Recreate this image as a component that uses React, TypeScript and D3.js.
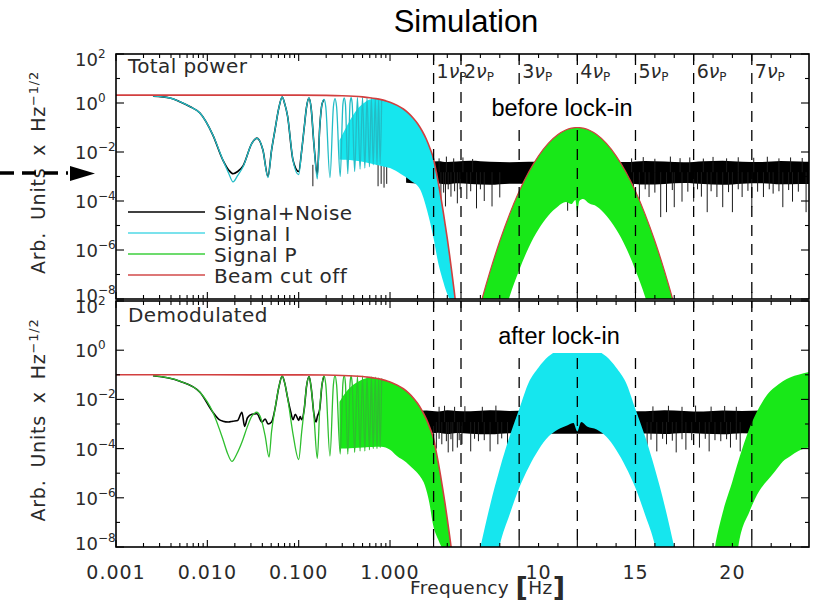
import React from "react";
import * as d3 from "d3";

type Pt = [number, number];
type Band = [number, number, number];

// ---- Harmonics of the modulation frequency (dashed markers) ----
const harmonicOrders = [1, 2, 3, 4, 5, 6, 7];
const harmonicFreqs = [3, 6, 9, 12, 15, 18, 21];

// ---- Axis ticks and labels ----
const logLabelFreqs = [0.001, 0.01, 0.1, 1];
const logLabelTexts = ["0.001", "0.010", "0.100", "1.000"];
const linLabelFreqs = [10, 15, 20];
const linLabelTexts = ["10", "15", "20"];
const linMajorTicks = [3, 6, 9, 12, 15, 18, 21];
const linMinorTicks = [4.5, 7, 8, 10, 11, 13, 14, 16, 17, 19, 20, 22, 23];
const decadeExponents = [2, 1, 0, -1, -2, -3, -4, -5, -6, -7, -8];
const labelledExponents = [2, 0, -2, -4, -6, -8];

// ---- Legend ----
const legendNames = ["Signal+Noise", "Signal I", "Signal P", "Beam cut off"];
const legendColors = ["#000000", "#4fd8e6", "#3ccf3c", "#d24a4a"];

// ---- Beam cut-off envelope ----
const beamF = [0.001, 0.1, 0.2, 0.3, 0.4, 0.5, 0.6, 0.7, 0.8, 0.9, 1.0, 1.2, 1.4, 1.6, 1.8, 2.0, 2.25, 2.5, 2.75, 3.0, 3.25, 3.5, 3.75, 4.0, 4.25, 4.5, 4.75, 5.0, 5.25, 5.5];
const beamTotal = [2.1, 2.09, 2.05, 1.98, 1.89, 1.78, 1.65, 1.51, 1.37, 1.22, 1.08, 0.8, 0.57, 0.38, 0.24, 0.146, 0.072, 0.033, 0.0136, 0.0052, 0.0018, 6e-4, 1.8e-4, 4.9e-5, 1.2e-5, 2.9e-6, 6.2e-7, 1.2e-7, 2.2e-8, 3.7e-9];
const beamDemod = [0.1, 0.0995, 0.0976, 0.0943, 0.09, 0.0848, 0.0787, 0.072, 0.0652, 0.058, 0.0514, 0.038, 0.0271, 0.0181, 0.0115, 0.00695, 0.00343, 0.00157, 6.5e-4, 2.5e-4, 8.7e-5, 2.85e-5, 8.5e-6, 2.33e-6, 5.9e-7, 1.37e-7, 2.9e-8, 5.8e-9, 1.05e-9, 1.8e-10];

// ======== Total power panel ========
// Signal+Noise, low-frequency trace
const sigNoiseTotF = [0.00254, 0.0039, 0.005, 0.0065, 0.0083, 0.0115, 0.0148, 0.0172, 0.0191, 0.0215, 0.0246, 0.0308, 0.0349, 0.0406, 0.0461, 0.0505, 0.055, 0.0605, 0.066, 0.0705, 0.0755, 0.0866, 0.1, 0.108, 0.115, 0.122, 0.13, 0.137, 0.147, 0.16, 0.17, 0.18, 0.19];
const sigNoiseTotV = [1.9, 1.6, 1.13, 0.7, 0.39, 0.049, 0.0047, 0.0018, 0.0013, 0.0016, 0.0027, 0.023, 0.037, 0.012, 0.001, 0.012, 0.079, 0.6, 1.76, 0.9, 0.3, 0.0047, 0.0016, 0.012, 0.1, 0.7, 1.6, 0.6, 0.02, 0.0012, 0.1, 0.9, 1.4];
// Noise floor above ~1.5 Hz
const noiseGridF = [1.5, 2.5, 3.5, 4.5, 5.5, 6.5, 7.5, 8.5, 9.5, 10.5, 11.5, 12.5, 13.5, 14.5, 15.5, 16.5, 17.5, 18.5, 19.5, 20.5, 21.5, 22.5, 23.5, 23.95];
const noiseTotUpper = [3.8e-3, 4e-3, 4.2e-3, 3.9e-3, 4.1e-3, 4.4e-3, 4.0e-3, 3.8e-3, 4e-3, 4e-3, 4e-3, 4e-3, 4e-3, 3.9e-3, 4.3e-3, 4.1e-3, 3.8e-3, 4.2e-3, 4.4e-3, 4.0e-3, 3.9e-3, 4.3e-3, 4.1e-3, 4.0e-3];
const noiseTotLower = [5.5e-4, 5e-4, 5.2e-4, 4.8e-4, 5.3e-4, 5e-4, 4.6e-4, 5.1e-4, 5e-4, 5e-4, 5e-4, 5e-4, 5e-4, 5.2e-4, 4.7e-4, 5.0e-4, 5.4e-4, 4.9e-4, 4.6e-4, 5.1e-4, 5.3e-4, 4.8e-4, 5.0e-4, 4.9e-4];
const noiseTotDips: Pt[] = [[2.6, 1.5e-4], [3.1, 8e-5], [3.8, 1e-4], [4.3, 6e-5], [4.9, 1.5e-4], [5.6, 8e-5], [6.3, 1.2e-4], [6.8, 5e-5], [7.2, 1e-4], [7.6, 6e-5], [8.0, 1.4e-4], [11.5, 4e-5], [15.2, 5.6e-5], [15.7, 1.45e-4], [16.3, 2.2e-5], [16.6, 3.5e-5], [17.0, 5.6e-5], [17.4, 9.4e-5], [18.0, 9.4e-5], [18.4, 1.5e-4], [18.7, 3.5e-5], [19.2, 1.45e-4], [19.5, 5.6e-5], [20.0, 3.5e-5], [20.5, 1.45e-4], [21.0, 5.6e-5], [21.6, 1.45e-4], [22.1, 2e-4], [22.6, 5.6e-5], [23.1, 9.4e-5], [23.8, 3.5e-5]];
const noiseTotShortDips: Pt[] = [[2.8, 2.5e-4], [3.4, 3e-4], [4.1, 2.2e-4], [4.6, 3e-4], [5.3, 2.5e-4], [5.9, 3e-4], [6.5, 2.5e-4], [7.0, 3e-4], [14.9, 2.5e-4], [15.5, 3e-4], [16.0, 2.2e-4], [16.9, 2.8e-4], [17.7, 2.4e-4], [18.2, 3e-4], [18.9, 2.5e-4], [19.8, 2.3e-4], [20.3, 3e-4], [20.8, 2.6e-4], [21.3, 2.4e-4], [21.9, 3e-4], [22.4, 2.5e-4], [22.9, 2.8e-4], [23.4, 2.4e-4]];
const noiseTotTips: Pt[] = [[2.9, 6e-3], [3.6, 5.5e-3], [4.4, 6.5e-3], [5.2, 5.5e-3], [6.1, 6e-3], [6.6, 5.2e-3], [14.8, 5.5e-3], [15.4, 6.2e-3], [16.0, 5.3e-3], [16.8, 6.5e-3], [17.3, 5.6e-3], [17.8, 6e-3], [18.5, 5.4e-3], [19.0, 6.3e-3], [19.7, 5.5e-3], [20.3, 6.1e-3], [21.1, 5.8e-3], [21.8, 6.4e-3], [22.4, 5.5e-3], [23.0, 6e-3], [23.6, 5.7e-3]];
const noiseTotLowDips: Pt[] = [[0.143, 4e-4], [0.74, 4e-4], [0.8, 5e-4], [0.86, 3.5e-4], [0.92, 5e-4]];

// Signal I (total power): resolved lobes, then the unresolved band
const sigITotF = [0.00254, 0.0039, 0.005, 0.0065, 0.0083, 0.0115, 0.0148, 0.0172, 0.0191, 0.0215, 0.0246, 0.0308, 0.0349, 0.0406, 0.0461, 0.0505, 0.055, 0.0605, 0.066, 0.0705, 0.0755, 0.0866, 0.1, 0.108, 0.115, 0.122, 0.13, 0.137, 0.147, 0.16, 0.17, 0.18, 0.19, 0.198, 0.22, 0.24, 0.25, 0.26, 0.285, 0.305, 0.315, 0.325, 0.345, 0.365, 0.375, 0.385, 0.41, 0.44, 0.47, 0.5, 0.53, 0.56, 0.595, 0.625, 0.655, 0.69, 0.72, 0.75, 0.78, 0.81];
const sigITotV = [1.9, 1.6, 1.13, 0.7, 0.39, 0.049, 0.0047, 0.0013, 0.0006, 0.0011, 0.0025, 0.023, 0.037, 0.012, 0.0009, 0.012, 0.079, 0.6, 1.76, 0.9, 0.3, 0.0047, 0.0012, 0.012, 0.1, 0.7, 1.6, 0.6, 0.02, 0.0008, 0.1, 0.9, 1.4, 0.7, 0.0009, 0.7, 1.5, 0.7, 0.001, 0.9, 1.6, 0.9, 0.0013, 1.0, 1.65, 1.0, 0.0016, 1.7, 0.002, 1.7, 0.0022, 1.65, 0.0025, 1.6, 0.003, 1.55, 0.003, 1.5, 0.0032, 1.4];
const sigITotBandF = [0.28, 0.33, 0.4, 0.5, 0.6, 0.7, 0.8, 1.0, 1.3, 1.66, 2.13, 2.55, 3.0, 3.5, 4.0, 4.4, 4.8, 5.2, 5.4];
const sigITotBandLo = [0.005, 0.0048, 0.0045, 0.004, 0.0035, 0.003, 0.0027, 0.0022, 0.0013, 7e-4, 3e-4, 4e-5, 3e-6, 3e-7, 6e-8, 2e-8, 9e-9, 4e-9, 7.6e-9];
const sigITotBandHi = [0.03, 0.1, 0.35, 0.9, 1.4, 1.5, 1.37, 1.08, 0.68, 0.33, 0.1, 0.027, 0.0052, 6e-4, 4.9e-5, 5.2e-6, 4.5e-7, 3.1e-8, 7.6e-9];

// Signal P (total power): modulated up to the 4th harmonic
const sigPTotF = [6.6, 7, 7.5, 8, 8.5, 9, 9.5, 10, 10.5, 11, 11.4, 11.7, 11.9, 12, 12.1, 12.3, 12.6, 13, 13.5, 14, 14.5, 15, 15.5, 16, 16.5, 17, 17.4];
const sigPTotLo = [1e-10, 1e-10, 1e-10, 5e-10, 1.2e-8, 1.5e-7, 1.3e-6, 7e-6, 2.5e-5, 6e-5, 9e-5, 7.5e-5, 1.1e-4, 3.5e-5, 1e-4, 1.2e-4, 8e-5, 6e-5, 2.5e-5, 7e-6, 1.3e-6, 1.5e-7, 1.2e-8, 5e-10, 1e-10, 1e-10, 1e-10];
const sigPTotHi = [3.6e-10, 5.8e-9, 1.37e-7, 2.33e-6, 2.84e-5, 2.48e-4, 1.55e-3, 6.95e-3, 0.0223, 0.0513, 0.0787, 0.0942, 0.0993, 0.1, 0.0993, 0.0942, 0.0787, 0.0513, 0.0223, 6.95e-3, 1.55e-3, 2.48e-4, 2.84e-5, 2.33e-6, 1.37e-7, 5.8e-9, 3.6e-10];

// ======== Demodulated panel ========
const sigNoiseDemF = [0.00254, 0.005, 0.0083, 0.0115, 0.0135, 0.0148, 0.017, 0.019, 0.0215, 0.0239, 0.0256, 0.0275, 0.0307, 0.0349, 0.0396, 0.043, 0.0462, 0.0505, 0.055, 0.0605, 0.066, 0.0705, 0.0755, 0.082, 0.0866, 0.092, 0.1, 0.104, 0.108, 0.115, 0.122, 0.13, 0.137, 0.147, 0.155, 0.16, 0.17, 0.18, 0.19];
const sigNoiseDemV = [0.092, 0.055, 0.0195, 0.003, 1.5e-3, 1.3e-3, 1.2e-3, 1.3e-3, 1.4e-3, 3e-3, 8e-4, 1.8e-3, 2.5e-3, 2.6e-3, 1.2e-3, 1.6e-3, 1e-3, 1.2e-3, 4e-3, 0.03, 0.088, 0.045, 0.012, 3e-3, 1.5e-3, 2.5e-3, 1.4e-3, 2e-3, 1.5e-3, 4e-3, 0.035, 0.085, 0.03, 2.5e-3, 1.2e-3, 2e-3, 4e-3, 0.04, 0.09];
const noiseDemUpper = [3.3e-3, 3.5e-3, 3.2e-3, 3.6e-3, 3.4e-3, 3.3e-3, 3.6e-3, 3.4e-3, 3.5e-3, 3.4e-3, 3.4e-3, 3.4e-3, 3.4e-3, 3.4e-3, 3.3e-3, 3.6e-3, 3.4e-3, 3.2e-3, 3.5e-3, 3.4e-3, 3.5e-3, 3.4e-3, 3.4e-3, 3.4e-3];
const noiseDemLower = [4.2e-4, 4e-4, 4.4e-4, 3.9e-4, 4.3e-4, 4e-4, 3.8e-4, 4.2e-4, 4.1e-4, 4e-4, 4e-4, 4e-4, 4e-4, 4e-4, 4.1e-4, 3.9e-4, 4.3e-4, 4e-4, 3.8e-4, 4.2e-4, 4e-4, 4e-4, 4e-4, 4e-4];
const noiseDemDips: Pt[] = [[3.3, 1e-4], [3.9, 1.5e-4], [4.6, 7e-5], [5.1, 7.7e-5], [5.6, 1.1e-4], [6.05, 1.5e-4], [6.5, 7.7e-5], [6.9, 2e-4], [7.5, 7.7e-5], [7.9, 1.5e-4], [8.4, 1.5e-4], [15.6, 1.1e-4], [16.1, 7.7e-5], [16.6, 1.5e-4], [17.1, 7e-5], [17.6, 9e-5], [18.3, 1.1e-4], [18.8, 7.7e-5], [19.4, 2e-4], [19.9, 1.1e-4], [20.4, 7.7e-5]];
const noiseDemShortDips: Pt[] = [[3.0, 2.2e-4], [3.6, 2.5e-4], [4.4, 2e-4], [4.9, 2.4e-4], [5.8, 2.2e-4], [6.7, 2.5e-4], [7.2, 2.2e-4], [8.1, 2.6e-4], [15.8, 2.3e-4], [16.4, 2.5e-4], [16.9, 2.1e-4], [17.4, 2.4e-4], [17.9, 2.2e-4], [18.6, 2.5e-4], [19.1, 2.2e-4], [19.7, 2.4e-4], [20.2, 2.3e-4]];
const noiseDemTips: Pt[] = [[3.6, 5e-3], [4.2, 5.5e-3], [5.3, 5e-3], [6.2, 5.3e-3], [7.1, 5e-3], [7.8, 5.6e-3], [15.9, 5.2e-3], [16.7, 5.5e-3], [17.4, 5e-3], [18.1, 5.6e-3], [18.9, 5.1e-3], [19.6, 5.4e-3], [20.2, 5e-3]];

// Signal P (demodulated): brought down to base band
const sigPDemF = [0.00254, 0.005, 0.0083, 0.0115, 0.0148, 0.0165, 0.0186, 0.021, 0.0239, 0.0275, 0.0307, 0.0349, 0.039, 0.043, 0.0474, 0.0505, 0.055, 0.0605, 0.066, 0.0705, 0.0755, 0.0866, 0.1, 0.108, 0.115, 0.122, 0.13, 0.137, 0.147, 0.16, 0.17, 0.18, 0.19, 0.198, 0.22, 0.24, 0.25, 0.26, 0.285, 0.305, 0.315, 0.325, 0.345, 0.365, 0.375, 0.385, 0.41, 0.44, 0.47, 0.5, 0.53, 0.56, 0.595, 0.625, 0.655, 0.69, 0.72, 0.75, 0.78, 0.81];
const sigPDemV = [0.092, 0.055, 0.0195, 0.003, 2.4e-4, 7e-5, 3e-5, 6e-5, 1.8e-4, 8e-4, 2.1e-3, 3e-3, 1.5e-3, 3.2e-4, 4.5e-5, 5e-4, 4e-3, 0.03, 0.088, 0.045, 0.012, 4e-4, 3.6e-5, 5e-4, 4e-3, 0.035, 0.085, 0.03, 2e-3, 4e-5, 4e-3, 0.04, 0.09, 0.04, 5e-5, 0.04, 0.092, 0.04, 6e-5, 0.045, 0.093, 0.045, 6e-5, 0.045, 0.092, 0.045, 7e-5, 0.09, 8e-5, 0.088, 8e-5, 0.085, 9e-5, 0.082, 1e-4, 0.08, 1e-4, 0.075, 1.1e-4, 0.07];
const sigPDemBandF = [0.28, 0.33, 0.4, 0.5, 0.6, 0.7, 0.8, 1.0, 1.19, 1.5, 1.79, 2.1, 2.42, 2.7, 2.96, 3.5, 4.0, 4.5, 4.95];
const sigPDemBandLo = [1e-4, 1e-4, 1.05e-4, 1.1e-4, 1.15e-4, 1.2e-4, 1.2e-4, 9e-5, 5e-5, 2.8e-5, 1.5e-5, 8e-6, 3e-6, 6e-7, 8e-8, 2e-8, 8e-9, 4e-9, 8.2e-9];
const sigPDemBandHi = [0.008, 0.02, 0.04, 0.065, 0.075, 0.072, 0.0652, 0.0514, 0.0389, 0.0223, 0.0118, 5.3e-3, 2.0e-3, 7.7e-4, 2.9e-4, 2.85e-5, 2.33e-6, 1.37e-7, 8.2e-9];
// Signal I (demodulated): shifted up to the 4th harmonic
const sigIDemF = [6.7, 7, 7.5, 8, 8.5, 9, 9.5, 10, 10.5, 11, 11.5, 11.8, 12, 12.2, 12.5, 13, 13.5, 14, 14.5, 15, 15.5, 16, 16.5, 17, 17.3];
const sigIDemLo = [1e-10, 1e-10, 1e-10, 1.2e-8, 2e-7, 2.5e-6, 1.8e-5, 9e-5, 3e-4, 6e-4, 9e-4, 1.1e-3, 5e-4, 1.2e-3, 8e-4, 6e-4, 3e-4, 9e-5, 1.8e-5, 2.5e-6, 2e-7, 1.2e-8, 1e-10, 1e-10, 1e-10];
const sigIDemHi = [1e-9, 1e-8, 5e-7, 1.5e-5, 3e-4, 4e-3, 0.05, 0.2, 0.55, 1.0, 1.4, 1.55, 1.6, 1.55, 1.4, 1.0, 0.55, 0.2, 0.05, 4e-3, 3e-4, 1.5e-5, 5e-7, 1e-8, 1e-9];
// Signal P sideband entering at the 8th harmonic
const sigPDem2F = [18.9, 19.1, 19.5, 20, 20.3, 20.9, 21.4, 21.8, 22.2, 22.6, 23, 23.4, 23.95];
const sigPDem2Lo = [1e-10, 1e-10, 1e-10, 1e-10, 1e-8, 3e-7, 2e-6, 5e-6, 1.2e-5, 3e-5, 5e-5, 8e-5, 1.1e-4];
const sigPDem2Hi = [1e-9, 1e-8, 2.5e-7, 4.7e-6, 3e-5, 7.4e-4, 5e-3, 0.016, 0.032, 0.055, 0.08, 0.1, 0.13];

// ---------- layout and scales ----------
const W = 817;
const H = 605;
const PLOT_L = 116;
const PLOT_R = 809;
const PANELS = [
  { top: 54, bottom: 299 },
  { top: 301, bottom: 547 },
];
const IDL_FONT = "'DejaVu Sans', sans-serif";
const SANS_FONT = "'Liberation Sans', Arial, sans-serif";
const TEXT_GREY = "#2a2a2a";
const CYAN = "#16e6ee";
const CYAN_LINE = "#23bcc6";
const GREEN = "#18e818";
const GREEN_LINE = "#2ebe2e";
const RED = "#d23f3f";

// Log frequency axis up to 3 Hz, linear above
const xLog = d3.scaleLog().domain([0.001, 3]).range([PLOT_L, 433.6]);
const xLin = d3.scaleLinear().domain([3, 6, 23.95]).range([433.6, 461, PLOT_R]);
const xf = (f: number) => (f <= 3 ? xLog(f) : xLin(f));
const yScales = PANELS.map((p) => d3.scaleLog().domain([1e-8, 1e2]).range([p.bottom, p.top]));

const zip = (f: number[], v: number[]): Pt[] => f.map((x, i) => [x, v[i]]);
const zip3 = (f: number[], lo: number[], hi: number[]): Band[] => f.map((x, i) => [x, lo[i], hi[i]]);

function linePath(pts: Pt[], y: d3.ScaleLogarithmic<number, number>) {
  return d3
    .line<Pt>()
    .x((d) => xf(d[0]))
    .y((d) => y(d[1]))
    .curve(d3.curveMonotoneX)(pts) as string;
}
function bandPath(pts: Band[], y: d3.ScaleLogarithmic<number, number>) {
  return d3
    .area<Band>()
    .x((d) => xf(d[0]))
    .y0((d) => y(d[1]))
    .y1((d) => y(d[2]))
    .curve(d3.curveMonotoneX)(pts) as string;
}

function Spikes({ pts, from, y }: { pts: Pt[]; from: number; y: d3.ScaleLogarithmic<number, number> }) {
  return (
    <g stroke="#1a1a1a" strokeWidth={1}>
      {pts.map((d, i) => (
        <line key={i} x1={xf(d[0])} x2={xf(d[0])} y1={y(from)} y2={y(d[1])} />
      ))}
    </g>
  );
}

function PanelFrame({ idx }: { idx: number }) {
  const p = PANELS[idx];
  const y = yScales[idx];
  const logTicks = xLog.ticks().filter((f) => f < 2.999);
  const isMajorLog = (f: number) => Math.abs(Math.log10(f) - Math.round(Math.log10(f))) < 1e-6;
  const xTicks: { x: number; major: boolean }[] = [
    ...logTicks.map((f) => ({ x: xf(f), major: isMajorLog(f) })),
    ...linMajorTicks.map((f) => ({ x: xf(f), major: true })),
    ...linMinorTicks.map((f) => ({ x: xf(f), major: false })),
  ];
  return (
    <g stroke="#000" fill="none">
      {xTicks.map((t, i) => {
        const len = t.major ? 7 : 4;
        return (
          <g key={i} strokeWidth={1.1}>
            <line x1={t.x} x2={t.x} y1={p.top} y2={p.top + len} />
            <line x1={t.x} x2={t.x} y1={p.bottom} y2={p.bottom - len} />
          </g>
        );
      })}
      {decadeExponents.map((e) => {
        const yy = y(Math.pow(10, e));
        const len = e % 2 === 0 ? 8 : 4;
        return (
          <g key={e} strokeWidth={1.1}>
            <line x1={PLOT_L} x2={PLOT_L + len} y1={yy} y2={yy} />
            <line x1={PLOT_R} x2={PLOT_R - len} y1={yy} y2={yy} />
          </g>
        );
      })}
      <rect x={PLOT_L} y={p.top} width={PLOT_R - PLOT_L} height={p.bottom - p.top} strokeWidth={1.6} />
    </g>
  );
}

function YLabels({ idx }: { idx: number }) {
  const y = yScales[idx];
  // the outermost labels are nudged inward so they stay beside the frame
  const baselineShift = (e: number) => (e === 2 ? 12 : e === -8 ? 3 : 7);
  return (
    <g fontFamily={IDL_FONT} fill={TEXT_GREY}>
      {labelledExponents.map((e) => (
        <text key={e} x={75} y={y(Math.pow(10, e)) + baselineShift(e)} fontSize={18}>
          10
          <tspan dy={-8} fontSize={12}>
            {e < 0 ? "\u2212" + Math.abs(e) : String(e)}
          </tspan>
        </text>
      ))}
      <text
        transform={`translate(45,${(PANELS[idx].top + PANELS[idx].bottom) / 2 - 4}) rotate(-90)`}
        textAnchor="middle"
        fontSize={19}
        letterSpacing={0.8}
        wordSpacing={5}
      >
        Arb. Units x Hz
        <tspan dy={-7} fontSize={13}>
          {"\u22121/2"}
        </tspan>
      </text>
    </g>
  );
}

function HarmonicLines({ idx }: { idx: number }) {
  const p = PANELS[idx];
  return (
    <g stroke="#000" strokeWidth={1.3} strokeDasharray="11 8">
      {harmonicFreqs.map((f) => (
        <line key={f} x1={xf(f)} x2={xf(f)} y1={p.top} y2={p.bottom} />
      ))}
    </g>
  );
}

export default function App() {
  const yT = yScales[0];
  const yD = yScales[1];
  const beamTotPts = zip(beamF, beamTotal);
  const beamDemPts = zip(beamF, beamDemod);

  return (
    <svg
      width={W}
      height={H}
      viewBox={`0 0 ${W} ${H}`}
      style={{ position: "absolute", left: 0, top: 0, display: "block" }}
    >
      <rect x={0} y={0} width={W} height={H} fill="#fff" />
      <defs>
        {PANELS.map((p, i) => (
          <clipPath id={`clip${i}`} key={i}>
            <rect x={PLOT_L} y={p.top} width={PLOT_R - PLOT_L} height={p.bottom - p.top} />
          </clipPath>
        ))}
      </defs>

      {/* title */}
      <text x={466} y={32} textAnchor="middle" fontFamily={SANS_FONT} fontSize={31} fill="#000">
        Simulation
      </text>

      {/* ---------------- Total power ---------------- */}
      <g clipPath="url(#clip0)">
        <path d={bandPath(zip3(noiseGridF, noiseTotLower, noiseTotUpper), yT)} fill="#000" />
        <Spikes pts={noiseTotDips} from={1.5e-3} y={yT} />
        <Spikes pts={noiseTotShortDips} from={1.5e-3} y={yT} />
        <Spikes pts={noiseTotTips} from={1.5e-3} y={yT} />
        <Spikes pts={noiseTotLowDips} from={3e-3} y={yT} />
        <path d={linePath(zip(sigNoiseTotF, sigNoiseTotV), yT)} fill="none" stroke="#000" strokeWidth={1.6} />
        <path d={bandPath(zip3(sigITotBandF, sigITotBandLo, sigITotBandHi), yT)} fill={CYAN} />
        <path d={linePath(zip(sigITotF, sigITotV), yT)} fill="none" stroke={CYAN_LINE} strokeWidth={1.3} />
        <path d={bandPath(zip3(sigPTotF, sigPTotLo, sigPTotHi), yT)} fill={GREEN} />
        <path d={linePath(beamTotPts, yT)} fill="none" stroke={RED} strokeWidth={1.6} />
        <path d={linePath(zip(sigPTotF, sigPTotHi), yT)} fill="none" stroke={RED} strokeWidth={1.2} />
        <HarmonicLines idx={0} />
        <rect x={488} y={84} width={152} height={38} fill="#fff" />
      </g>
      <text x={562} y={116} textAnchor="middle" fontFamily={SANS_FONT} fontSize={23.5} fill="#000">
        before lock-in
      </text>
      <g fontFamily={IDL_FONT} fill={TEXT_GREY}>
        {harmonicOrders.map((n, i) => (
          <text key={n} x={xf(harmonicFreqs[i]) + 3} y={78} fontSize={19}>
            {n}
            <tspan fontStyle="italic">{"\u03bd"}</tspan>
            <tspan fontSize={12} dy={3}>
              P
            </tspan>
          </text>
        ))}
        <text x={128} y={73} fontSize={20} letterSpacing={0.4}>
          Total power
        </text>
      </g>
      {/* legend */}
      <g fontFamily={IDL_FONT}>
        {legendNames.map((name, i) => {
          const ly = 212 + i * 21;
          return (
            <g key={name}>
              <line x1={128} x2={205} y1={ly} y2={ly} stroke={legendColors[i]} strokeWidth={1.6} />
              <text x={214} y={ly + 8} fontSize={20} letterSpacing={0.4} fill={TEXT_GREY}>
                {name}
              </text>
            </g>
          );
        })}
      </g>
      <PanelFrame idx={0} />
      <YLabels idx={0} />

      {/* ---------------- Demodulated ---------------- */}
      <g clipPath="url(#clip1)">
        <path d={bandPath(zip3(noiseGridF, noiseDemLower, noiseDemUpper), yD)} fill="#000" />
        <Spikes pts={noiseDemDips} from={1.2e-3} y={yD} />
        <Spikes pts={noiseDemShortDips} from={1.2e-3} y={yD} />
        <Spikes pts={noiseDemTips} from={1.2e-3} y={yD} />
        <path d={linePath(zip(sigNoiseDemF, sigNoiseDemV), yD)} fill="none" stroke="#000" strokeWidth={1.6} />
        <path d={bandPath(zip3(sigIDemF, sigIDemLo, sigIDemHi), yD)} fill={CYAN} />
        <path d={bandPath(zip3(sigPDemBandF, sigPDemBandLo, sigPDemBandHi), yD)} fill={GREEN} />
        <path d={linePath(zip(sigPDemF, sigPDemV), yD)} fill="none" stroke={GREEN_LINE} strokeWidth={1.3} />
        <path d={bandPath(zip3(sigPDem2F, sigPDem2Lo, sigPDem2Hi), yD)} fill={GREEN} />
        <path d={linePath(beamDemPts, yD)} fill="none" stroke={RED} strokeWidth={1.6} />
        <HarmonicLines idx={1} />
        <rect x={488} y={315} width={157} height={38} fill="#fff" />
      </g>
      <text x={559} y={344} textAnchor="middle" fontFamily={SANS_FONT} fontSize={23.5} fill="#000">
        after lock-in
      </text>
      <text x={128} y={322} fontFamily={IDL_FONT} fontSize={20} letterSpacing={0.4} fill={TEXT_GREY}>
        Demodulated
      </text>
      <PanelFrame idx={1} />
      <YLabels idx={1} />

      {/* frequency axis labels */}
      <g fontFamily={IDL_FONT} fill={TEXT_GREY} fontSize={19} letterSpacing={1} textAnchor="middle">
        {logLabelFreqs.map((f, i) => (
          <text key={f} x={xf(f)} y={579}>
            {logLabelTexts[i]}
          </text>
        ))}
        {linLabelFreqs.map((f, i) => (
          <text key={f} x={xf(f)} y={579}>
            {linLabelTexts[i]}
          </text>
        ))}
      </g>
      <text x={410} y={594} fontFamily={IDL_FONT} fontSize={18.5} letterSpacing={0.4} fill={TEXT_GREY}>
        {"Frequency "}
        <tspan fontSize={27} fontWeight="bold" dy={2}>
          [
        </tspan>
        <tspan fontSize={18.5} dy={-2}>
          Hz
        </tspan>
        <tspan fontSize={27} fontWeight="bold" dy={2}>
          ]
        </tspan>
      </text>

      {/* pointer to the noise level */}
      <line x1={0} x2={68} y1={173} y2={173} stroke="#000" strokeWidth={3.5} strokeDasharray="14 8" />
      <polygon points="70,166 95,173.5 70,181" fill="#000" />
    </svg>
  );
}
